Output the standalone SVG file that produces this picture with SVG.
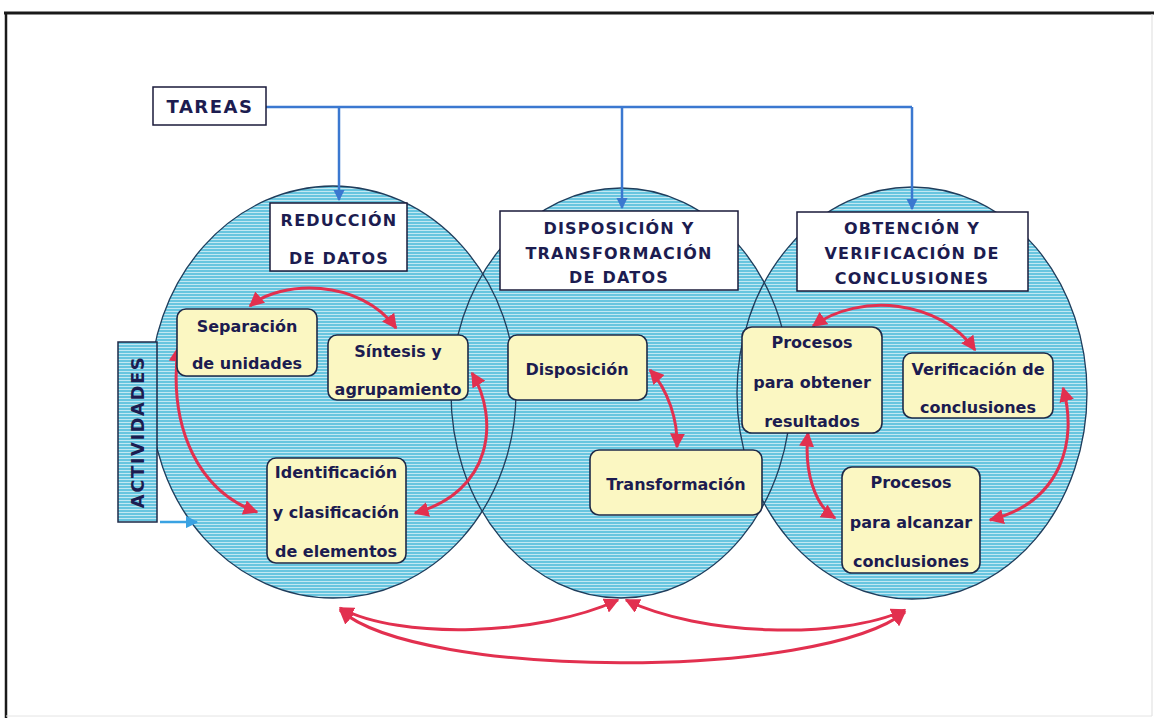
<svg xmlns="http://www.w3.org/2000/svg" width="1154" height="718" viewBox="0 0 1154 718">
<style>
.t{font-family:"DejaVu Sans","Liberation Sans",sans-serif;font-weight:bold;fill:#1c1c50;text-anchor:middle}
.h{font-size:16px;letter-spacing:1.2px}
.b{font-size:16px}
.hdr{fill:#ffffff;stroke:#1a1a3a;stroke-width:1.5}
.yb{fill:#fbf7c2;stroke:#1e2a48;stroke-width:1.6}
.circ{fill:url(#stripes)}
.edge{fill:none;stroke:#1f3d5c;stroke-width:1.3}
.blue{fill:none;stroke:#3b78d0;stroke-width:2.5}
.red{fill:none;stroke:#e2304f;stroke-width:3}
</style>
<defs>
<pattern id="stripes" patternUnits="userSpaceOnUse" width="8" height="3">
<rect width="8" height="3" fill="#68c5df"/>
<rect y="2" width="8" height="1" fill="#c2e8f2"/>
</pattern>
<marker id="ab" viewBox="0 0 10 10" refX="9" refY="5" markerWidth="4.5" markerHeight="4.5" orient="auto">
<path d="M0,0 L10,5 L0,10 z" fill="#3b78d0"/>
</marker>
<marker id="ab2" viewBox="0 0 10 10" refX="9" refY="5" markerWidth="5" markerHeight="5" orient="auto">
<path d="M0,0 L10,5 L0,10 z" fill="#3aa2e2"/>
</marker>
<marker id="ar" viewBox="0 0 10 10" refX="9" refY="5" markerWidth="5" markerHeight="5" orient="auto-start-reverse">
<path d="M0,0 L10,5 L0,10 z" fill="#e2304f"/>
</marker>
</defs>
<rect width="1154" height="718" fill="#ffffff"/>
<g id="frame">
<line x1="4" y1="13" x2="1154" y2="13" stroke="#1a1a1a" stroke-width="3"/>
<line x1="6" y1="13" x2="6" y2="718" stroke="#1a1a1a" stroke-width="2.5"/>
<line x1="1152" y1="14" x2="1152" y2="716" stroke="#dddddd" stroke-width="1"/>
<line x1="6" y1="716" x2="1152" y2="716" stroke="#e4e4e4" stroke-width="1"/>
</g>
<g id="circles">
<ellipse class="circ" cx="333" cy="392" rx="183" ry="206"/>
<ellipse class="circ" cx="621" cy="393" rx="170" ry="205"/>
<ellipse class="circ" cx="912" cy="393" rx="175" ry="206"/>
<ellipse class="edge" cx="333" cy="392" rx="183" ry="206"/>
<ellipse class="edge" cx="621" cy="393" rx="170" ry="205"/>
<ellipse class="edge" cx="912" cy="393" rx="175" ry="206"/>
</g>
<g id="connectors">
<path class="blue" d="M266,107 H912"/>
<path class="blue" d="M339,107 V200" marker-end="url(#ab)"/>
<path class="blue" d="M622,107 V208" marker-end="url(#ab)"/>
<path class="blue" d="M912,107 V209" marker-end="url(#ab)"/>
<path d="M160,522 H197" fill="none" stroke="#3aa2e2" stroke-width="2.5" marker-end="url(#ab2)"/>
<path class="red" d="M250,306 C280,280 360,278 396,328" marker-start="url(#ar)" marker-end="url(#ar)"/>
<path class="red" d="M178,348 C168,430 200,492 257,512" marker-start="url(#ar)" marker-end="url(#ar)"/>
<path class="red" d="M472,373 C500,420 492,492 415,513" marker-start="url(#ar)" marker-end="url(#ar)"/>
<path class="red" d="M650,370 C668,390 678,420 677,447" marker-start="url(#ar)" marker-end="url(#ar)"/>
<path class="red" d="M813,326 C860,292 940,300 975,350" marker-start="url(#ar)" marker-end="url(#ar)"/>
<path class="red" d="M1063,388 C1078,440 1062,502 990,520" marker-start="url(#ar)" marker-end="url(#ar)"/>
<path class="red" d="M808,433 C804,470 814,505 835,518" marker-start="url(#ar)" marker-end="url(#ar)"/>
<path class="red" d="M340,608 C400,640 540,636 618,600" marker-start="url(#ar)" marker-end="url(#ar)"/>
<path class="red" d="M626,600 C700,636 840,640 905,610" marker-start="url(#ar)" marker-end="url(#ar)"/>
<path class="red" d="M340,610 C420,680 820,680 905,612" marker-start="url(#ar)" marker-end="url(#ar)"/>
</g>
<g id="tareas">
<rect class="hdr" x="153" y="87" width="113" height="38"/>
<text class="t" x="210" y="113" style="font-size:18px;letter-spacing:1.5px">TAREAS</text>
</g>
<g id="reduccion">
<rect class="hdr" x="270" y="203" width="137" height="68"/>
<text class="t h" x="339" y="226">REDUCCIÓN</text>
<text class="t h" x="339" y="264">DE DATOS</text>
</g>
<g id="disposicion-h">
<rect class="hdr" x="500" y="211" width="238" height="79"/>
<text class="t h" x="619" y="234">DISPOSICIÓN Y</text>
<text class="t h" x="619" y="259">TRANSFORMACIÓN</text>
<text class="t h" x="619" y="283">DE DATOS</text>
</g>
<g id="obtencion">
<rect class="hdr" x="797" y="212" width="231" height="79"/>
<text class="t h" x="912" y="234">OBTENCIÓN Y</text>
<text class="t h" x="912" y="259">VERIFICACIÓN DE</text>
<text class="t h" x="912" y="284">CONCLUSIONES</text>
</g>
<g id="actividades">
<rect x="118" y="342" width="39" height="180" fill="url(#stripes)" stroke="#1e2a48" stroke-width="1.5"/>
<text class="t" transform="translate(144,432) rotate(-90)" style="font-size:18px;letter-spacing:1.5px">ACTIVIDADES</text>
</g>
<g id="separacion">
<rect class="yb" x="177" y="309" width="140" height="67" rx="9"/>
<text class="t b" x="247" y="332">Separación</text>
<text class="t b" x="247" y="369">de unidades</text>
</g>
<g id="sintesis">
<rect class="yb" x="328" y="335" width="140" height="65" rx="9"/>
<text class="t b" x="398" y="357">Síntesis y</text>
<text class="t b" x="398" y="395">agrupamiento</text>
</g>
<g id="identificacion">
<rect class="yb" x="267" y="458" width="139" height="105" rx="9"/>
<text class="t b" x="336" y="478">Identificación</text>
<text class="t b" x="336" y="518">y clasificación</text>
<text class="t b" x="336" y="557">de elementos</text>
</g>
<g id="disposicion">
<rect class="yb" x="508" y="335" width="139" height="65" rx="9"/>
<text class="t b" x="577" y="375">Disposición</text>
</g>
<g id="transformacion">
<rect class="yb" x="590" y="450" width="172" height="65" rx="9"/>
<text class="t b" x="676" y="490">Transformación</text>
</g>
<g id="procesos-obtener">
<rect class="yb" x="742" y="327" width="140" height="106" rx="10"/>
<text class="t b" x="812" y="348">Procesos</text>
<text class="t b" x="812" y="388">para obtener</text>
<text class="t b" x="812" y="427">resultados</text>
</g>
<g id="verificacion">
<rect class="yb" x="903" y="353" width="150" height="65" rx="9"/>
<text class="t b" x="978" y="375">Verificación de</text>
<text class="t b" x="978" y="413">conclusiones</text>
</g>
<g id="procesos-alcanzar">
<rect class="yb" x="842" y="467" width="138" height="106" rx="10"/>
<text class="t b" x="911" y="488">Procesos</text>
<text class="t b" x="911" y="528">para alcanzar</text>
<text class="t b" x="911" y="567">conclusiones</text>
</g>
</svg>
